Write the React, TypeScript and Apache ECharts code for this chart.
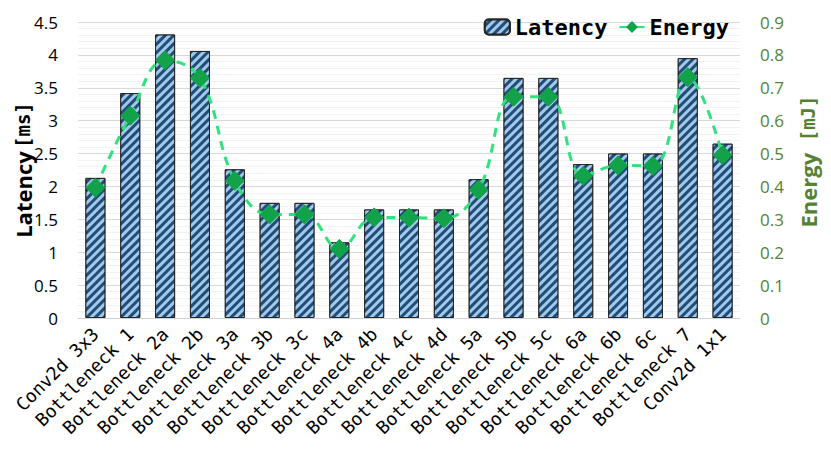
import React, { useEffect, useRef } from "react";
import * as echarts from "echarts";

const categories = [
  "Conv2d 3x3", "Bottleneck 1", "Bottleneck 2a", "Bottleneck 2b", "Bottleneck 3a",
  "Bottleneck 3b", "Bottleneck 3c", "Bottleneck 4a", "Bottleneck 4b", "Bottleneck 4c",
  "Bottleneck 4d", "Bottleneck 5a", "Bottleneck 5b", "Bottleneck 5c", "Bottleneck 6a",
  "Bottleneck 6b", "Bottleneck 6c", "Bottleneck 7", "Conv2d 1x1",
];
const latency = [2.13, 3.42, 4.31, 4.06, 2.26, 1.75, 1.75, 1.15, 1.65, 1.65, 1.65, 2.11, 3.65, 3.65, 2.34, 2.5, 2.5, 3.95, 2.65];
const energy = [0.396, 0.615, 0.784, 0.73, 0.417, 0.315, 0.315, 0.21, 0.306, 0.305, 0.303, 0.39, 0.673, 0.673, 0.432, 0.464, 0.462, 0.732, 0.495];

const latencyTicks = { min: 0, max: 4.5, interval: 0.5 };
const energyTicks = { min: 0, max: 0.9, interval: 0.1 };

export default function App() {
  const ref = useRef<HTMLDivElement>(null);
  useEffect(() => {
    if (!ref.current) return;
    const chart = echarts.init(ref.current, undefined, { renderer: "svg" });
    const sans = "Open Sans";
    const mono = "DejaVu Sans Mono";
    chart.setOption({
      animation: false,
      backgroundColor: "#ffffff",
      grid: { left: 70, right: 91, top: 14, bottom: 135, outerBoundsMode: "none", containLabel: false },
      graphic: [
        {
          type: "text",
          x: 15,
          y: 162,
          rotation: Math.PI / 2,
          style: {
            text: "{a|Latency} {b|[ms]}",
            align: "center",
            verticalAlign: "middle",
            fill: "#000",
            rich: {
              a: { fontFamily: sans, fontWeight: "bold", fontSize: 22, fill: "#000", color: "#000" },
              b: { fontFamily: mono, fontWeight: "bold", fontSize: 19, fill: "#000", color: "#000" },
            },
          },
        },
      ],
      legend: {
        right: 97,
        top: 3,
        itemWidth: 25,
        itemHeight: 15,
        itemGap: 11,
        textStyle: { fontFamily: mono, fontWeight: "bold", fontSize: 22, color: "#000" },
        data: [{ name: "Latency" }, { name: "Energy" }],
      },
      xAxis: {
        type: "category",
        data: categories,
        axisTick: { show: false },
        axisLine: { lineStyle: { color: "#d0d0d0" } },
        axisLabel: {
          rotate: 45,
          interval: 0,
          margin: 13,
          fontFamily: mono,
          fontSize: 18,
          color: "#000",
        },
      },
      yAxis: [
        {
          type: "value",
          ...latencyTicks,
          axisLabel: { margin: 20, fontFamily: sans, fontSize: 17, color: "#000" },
          axisLine: { show: false },
          axisTick: { show: false },
          splitLine: { lineStyle: { color: "#d9d9d9" } },
          minorTick: { show: false, splitNumber: 5 },
          minorSplitLine: { show: true, lineStyle: { color: "#f2f2f2" } },
        },
        {
          type: "value",
          ...energyTicks,
          name: "{a|Energy} {b|[mJ]}",
          nameLocation: "middle",
          nameGap: 57,
          nameTextStyle: {
            rich: {
              a: { fontFamily: sans, fontWeight: "bold", fontSize: 22, color: "#548235" },
              b: { fontFamily: mono, fontWeight: "bold", fontSize: 19, color: "#548235" },
            },
            fontFamily: mono,
            fontSize: 19,
            padding: [0, 0, 0, 17],
          },
          axisLabel: {
            margin: 20,
            fontFamily: sans,
            fontSize: 17,
            color: "#548235",
            formatter: (v: number) => (Math.round(v * 10) / 10).toString(),
          },
          axisLine: { show: false },
          axisTick: { show: false },
          splitLine: { show: false },
        },
      ],
      series: [
        {
          name: "Latency",
          type: "bar",
          data: latency,
          barWidth: 20,
          yAxisIndex: 0,
          itemStyle: {
            color: "#1f4e79",
            borderColor: "#262626",
            borderWidth: 1,
            decal: {
              symbol: "rect",
              color: "#a4c8ea",
              dashArrayX: [1, 0],
              dashArrayY: [3, 3],
              rotation: -Math.PI / 4,
            },
          },
        },
        {
          name: "Energy",
          type: "line",
          data: energy,
          yAxisIndex: 1,
          smooth: 0.4,
          symbol: "diamond",
          symbolSize: 19,
          lineStyle: { color: "#2fe27e", width: 3, type: [9, 7] },
          itemStyle: { color: "#12a24a", borderColor: "#12a24a" },
          z: 5,
        },
      ],
    });
    return () => chart.dispose();
  }, []);
  return <div ref={ref} style={{ width: 823, height: 445 }} />;
}
